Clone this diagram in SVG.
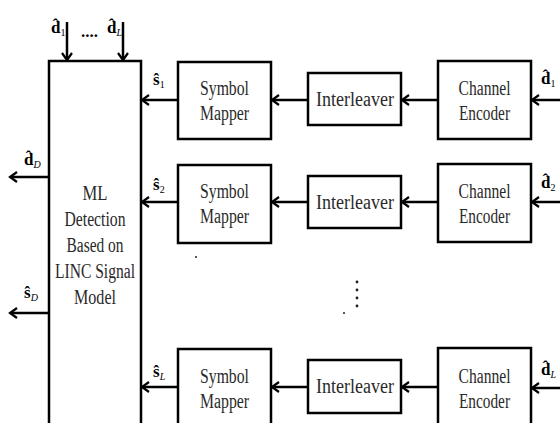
<svg xmlns="http://www.w3.org/2000/svg" width="560" height="423" viewBox="0 0 560 423" font-family="'Liberation Serif', 'Times New Roman', Tinos, 'DejaVu Serif', serif">
<style>
.box{fill:#fff;stroke:#000;stroke-width:2.5}
.t{font-family:'Liberation Serif','Times New Roman',Tinos,'DejaVu Serif',serif;font-size:20px;fill:#2a2a2a;text-anchor:middle}
.lbl{font-family:'Liberation Serif','Times New Roman',Tinos,'DejaVu Serif',serif;font-size:17px;font-weight:bold;fill:#000}
.sub{font-size:10px;font-weight:normal}
.it{font-style:italic}
.c{stroke:#000;stroke-width:2.5;fill:none;marker-end:url(#ah)}
</style>
<defs>
<marker id="ah" markerUnits="userSpaceOnUse" markerWidth="12" markerHeight="14" viewBox="-10 -7 12 14" refX="0" refY="0" orient="auto">
<path d="M-7,-5 L0,0 L-7,5" fill="none" stroke="#000" stroke-width="2.2"/>
</marker>
</defs>
<rect width="560" height="423" fill="#fff"/>

<g id="ml">
<rect class="box" x="49" y="61" width="92" height="380"/>
<text class="t" x="95" y="200" textLength="25" lengthAdjust="spacingAndGlyphs">ML</text>
<text class="t" x="95" y="226" textLength="61" lengthAdjust="spacingAndGlyphs">Detection</text>
<text class="t" x="95" y="252" textLength="57" lengthAdjust="spacingAndGlyphs">Based on</text>
<text class="t" x="95" y="278" textLength="80" lengthAdjust="spacingAndGlyphs">LINC Signal</text>
<text class="t" x="95" y="304" textLength="42" lengthAdjust="spacingAndGlyphs">Model</text>
</g>

<g id="sm1"><rect class="box" x="178" y="62" width="93" height="77"/><text class="t" x="224.5" y="95" textLength="49" lengthAdjust="spacingAndGlyphs">Symbol</text><text class="t" x="224.5" y="120" textLength="49" lengthAdjust="spacingAndGlyphs">Mapper</text></g>
<g id="il1"><rect class="box" x="308" y="73" width="93" height="52"/><text class="t" x="355" y="106" textLength="78" lengthAdjust="spacingAndGlyphs">Interleaver</text></g>
<g id="ce1"><rect class="box" x="438" y="61" width="93" height="78"/><text class="t" x="484.5" y="95" textLength="52" lengthAdjust="spacingAndGlyphs">Channel</text><text class="t" x="484.5" y="120" textLength="51" lengthAdjust="spacingAndGlyphs">Encoder</text></g>

<g id="sm2"><rect class="box" x="178" y="165" width="93" height="78"/><text class="t" x="224.5" y="198" textLength="49" lengthAdjust="spacingAndGlyphs">Symbol</text><text class="t" x="224.5" y="223" textLength="49" lengthAdjust="spacingAndGlyphs">Mapper</text></g>
<g id="il2"><rect class="box" x="308" y="176" width="93" height="52"/><text class="t" x="355" y="209" textLength="78" lengthAdjust="spacingAndGlyphs">Interleaver</text></g>
<g id="ce2"><rect class="box" x="438" y="164" width="93" height="78"/><text class="t" x="484.5" y="198" textLength="52" lengthAdjust="spacingAndGlyphs">Channel</text><text class="t" x="484.5" y="223" textLength="51" lengthAdjust="spacingAndGlyphs">Encoder</text></g>

<g id="sm3"><rect class="box" x="178" y="349" width="93" height="80"/><text class="t" x="224.5" y="383" textLength="49" lengthAdjust="spacingAndGlyphs">Symbol</text><text class="t" x="224.5" y="408" textLength="49" lengthAdjust="spacingAndGlyphs">Mapper</text></g>
<g id="il3"><rect class="box" x="308" y="360" width="93" height="53"/><text class="t" x="355" y="393" textLength="78" lengthAdjust="spacingAndGlyphs">Interleaver</text></g>
<g id="ce3"><rect class="box" x="438" y="348" width="93" height="80"/><text class="t" x="484.5" y="383" textLength="52" lengthAdjust="spacingAndGlyphs">Channel</text><text class="t" x="484.5" y="408" textLength="51" lengthAdjust="spacingAndGlyphs">Encoder</text></g>

<g id="connectors">
<line class="c" x1="560" y1="100" x2="532" y2="100"/>
<line class="c" x1="438" y1="100" x2="402" y2="100"/>
<line class="c" x1="308" y1="100" x2="272" y2="100"/>
<line class="c" x1="178" y1="100" x2="142" y2="100"/>
<line class="c" x1="560" y1="202" x2="532" y2="202"/>
<line class="c" x1="438" y1="202" x2="402" y2="202"/>
<line class="c" x1="308" y1="202" x2="272" y2="202"/>
<line class="c" x1="178" y1="202" x2="142" y2="202"/>
<line class="c" x1="560" y1="388" x2="532" y2="388"/>
<line class="c" x1="438" y1="387" x2="402" y2="387"/>
<line class="c" x1="308" y1="387" x2="272" y2="387"/>
<line class="c" x1="178" y1="387" x2="142" y2="387"/>
<line class="c" x1="67" y1="22" x2="67" y2="60"/>
<line class="c" x1="123" y1="22" x2="123" y2="60"/>
<line class="c" x1="49" y1="177" x2="10" y2="177"/>
<line class="c" x1="49" y1="313" x2="10" y2="313"/>
</g>

<g id="labels">
<text class="lbl" x="51" y="33">d̂<tspan class="sub" dy="3">1</tspan></text>
<text class="lbl" x="81" y="37">....</text>
<text class="lbl" x="107" y="33">d̂<tspan class="sub it" dy="3">L</tspan></text>
<text class="lbl" x="153" y="85">ŝ<tspan class="sub" dy="3">1</tspan></text>
<text class="lbl" x="153" y="190">ŝ<tspan class="sub" dy="3">2</tspan></text>
<text class="lbl" x="153" y="377">ŝ<tspan class="sub it" dy="3">L</tspan></text>
<text class="lbl" x="541" y="84">d̂<tspan class="sub" dy="3">1</tspan></text>
<text class="lbl" x="541" y="188">d̂<tspan class="sub" dy="3">2</tspan></text>
<text class="lbl" x="541" y="375">d̂<tspan class="sub it" dy="3">L</tspan></text>
<text class="lbl" x="24" y="165">d̂<tspan class="sub it" dy="3">D</tspan></text>
<text class="lbl" x="24" y="298">ŝ<tspan class="sub it" dy="3">D</tspan></text>
</g>

<g id="dots" fill="#222">
<circle cx="357" cy="282" r="1.4"/>
<circle cx="357" cy="290" r="1.4"/>
<circle cx="357" cy="298" r="1.4"/>
<circle cx="357" cy="306" r="1.4"/>
<circle cx="344" cy="313" r="1"/>
<circle cx="196" cy="257" r="1"/>
</g>
</svg>
